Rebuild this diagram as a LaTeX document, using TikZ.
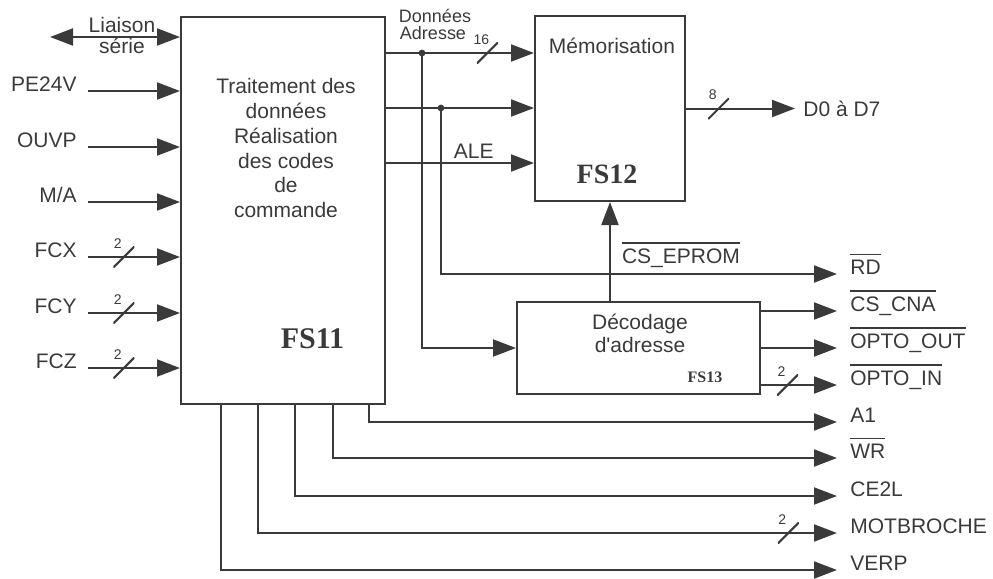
\documentclass[tikz,border=0pt]{standalone}
\usepackage{fontspec}
\setmainfont{Liberation Sans}
\newfontfamily\idfont{Liberation Serif}
\usetikzlibrary{arrows.meta,positioning}
\definecolor{ink}{HTML}{3A3A3A}
\newcommand{\nsig}[1]{\vbox{\hrule height 0.6pt\kern 2.4pt\hbox{#1}}}
\tikzset{
  block/.style={draw=ink,line width=1pt,inner sep=0pt},
  txt/.style={inner sep=0pt,text=ink,font=\fontsize{10.5}{12.4}\selectfont},
  num/.style={inner sep=0pt,text=ink,font=\fontsize{7}{7}\selectfont},
  fsid/.style={inner sep=0pt,text=ink,font=\idfont\bfseries\fontsize{#1}{#1}\selectfont},
  flow/.style={-{Triangle[length=11.5pt,width=8.5pt]},line width=1pt,draw=ink},
  duplex/.style={{Triangle[length=11.5pt,width=8.5pt]}-{Triangle[length=11.5pt,width=8.5pt]},line width=1pt,draw=ink},
  busmark/.style={inner sep=0pt,minimum width=10.5pt,minimum height=10.5pt,
    path picture={\draw[-,ink,line width=1pt] (path picture bounding box.south west) -- (path picture bounding box.north east);},
    label={[num,xshift=-3pt,yshift=-2pt]above:#1}}
}

\begin{document}
\begin{tikzpicture}[x=0.5pt,y=-0.5pt]
  \useasboundingbox (0,0) rectangle (993,579);
  % blocs
  \node[block,minimum width=102pt,minimum height=193.5pt] (fs11) at (283,210.5) {};
  \node[block,minimum width=75pt,minimum height=92.5pt] (fs12) at (610,108.5) {};
  \node[block,minimum width=121.5pt,minimum height=46pt] (fs13) at (638.5,348) {};

  \node[txt,align=center,anchor=north] (t11) at (286,78) {Traitement des\\données\\Réalisation\\des codes\\de\\commande};
  \node[fsid=15,anchor=base] (id11) at (312.5,348) {FS11};
  \node[txt,anchor=base] (t12) at (612,53) {Mémorisation};
  \node[fsid=14,anchor=base] (id12) at (607,183) {FS12};
  \node[txt,align=center,anchor=north,font=\fontsize{10.5}{11.5}\selectfont] (t13) at (640,314) {Décodage\\d\textquotesingle adresse};
  \node[fsid=8,anchor=base] (id13) at (705,382) {FS13};

  % entrees
  \coordinate (src) at (88,0);
  \coordinate (ls) at (50,37);
  \node[txt,align=center,anchor=north,font=\fontsize{10.5}{10.5}\selectfont] (liaison) at (122,17) {Liaison\\série};
  \node[txt,anchor=base east] (pe) at (77,91) {PE24V};
  \node[txt,anchor=base east] (ouvp) at (77,147) {OUVP};
  \node[txt,anchor=base east] (ma) at (77,202) {M/A};
  \node[txt,anchor=base east] (fcx) at (77,257) {FCX};
  \node[txt,anchor=base east] (fcy) at (77,313) {FCY};
  \node[txt,anchor=base east] (fcz) at (77,368) {FCZ};
  \draw[duplex] (ls) -- (fs11.west |- ls);
  \draw[flow] (src |- pe.base) -- (fs11.west |- pe.base);
  \draw[flow] (src |- ouvp.base) -- (fs11.west |- ouvp.base);
  \draw[flow] (src |- ma.base) -- (fs11.west |- ma.base);
  \draw[flow] (src |- fcx.base) -- node[busmark=2,pos=0.39] (bx) {} (fs11.west |- fcx.base);
  \draw[flow] (src |- fcy.base) -- node[busmark=2,pos=0.39] (by) {} (fs11.west |- fcy.base);
  \draw[flow] (src |- fcz.base) -- node[busmark=2,pos=0.39] (bz) {} (fs11.west |- fcz.base);

  % bus vers FS12
  \node[txt,anchor=base,font=\fontsize{9}{9}\selectfont] (don) at (435,22) {Données};
  \node[txt,anchor=base,font=\fontsize{9}{9}\selectfont] (adr) at (433,39) {Adresse};
  \coordinate (j1) at (422,53);
  \coordinate (j2) at (441,108);
  \coordinate (ale) at (460,163);
  \draw[flow] (fs11.east |- j1) -- node[busmark=16,pos=0.685] (b16) {} (fs12.west |- j1);
  \draw[flow] (fs11.east |- j2) -- (fs12.west |- j2);
  \draw[flow] (fs11.east |- ale) -- node[txt,above=2pt,pos=0.593] (lale) {ALE} (fs12.west |- ale);
  \fill[ink] (j1) circle (1.7pt);
  \fill[ink] (j2) circle (1.7pt);

  \node[txt,anchor=west] (d0) at (803,108.5) {D0 à D7};
  \draw[flow] (fs12.east) -- node[busmark=8,pos=0.30] (b8) {} ([xshift=-4pt]d0.west);

  % sorties
  \coordinate (tip) at (837,0);
  \node[txt,anchor=base west] (rd) at (850,274) {\nsig{RD}};
  \node[txt,anchor=base west] (cscna) at (850,311) {\nsig{CS\_CNA}};
  \node[txt,anchor=base west] (optoout) at (850,348) {\nsig{OPTO\_OUT}};
  \node[txt,anchor=base west] (optoin) at (850,385) {\nsig{OPTO\_IN}};
  \node[txt,anchor=base west] (a1) at (850,422) {A1};
  \node[txt,anchor=base west] (wr) at (850,458) {\nsig{WR}};
  \node[txt,anchor=base west] (ce2l) at (850,496) {CE2L};
  \node[txt,anchor=base west] (mot) at (850,533) {MOTBROCHE};
  \node[txt,anchor=base west] (verp) at (850,570) {VERP};

  \draw[flow] (j1) |- (fs13.west);
  \draw[flow] (j2) |- (tip |- rd.base);
  \draw[flow] (fs13.north -| fs12.south) -- (fs12.south);
  \node[txt,anchor=base] (lcs) at (681,263) {\nsig{CS\_EPROM}};

  \draw[flow] (fs13.east |- cscna.base) -- (tip |- cscna.base);
  \draw[flow] (fs13.east |- optoout.base) -- (tip |- optoout.base);
  \draw[flow] (fs13.east |- optoin.base) -- node[busmark=2,pos=0.35] (bin) {} (tip |- optoin.base);

  \draw[flow] ([xshift=-8.5pt]fs11.south east) |- (tip |- a1.base);
  \draw[flow] ([xshift=-26.5pt]fs11.south east) |- (tip |- wr.base);
  \draw[flow] ([xshift=-45.5pt]fs11.south east) |- (tip |- ce2l.base);
  \draw[flow] ([xshift=-64pt]fs11.south east) |- node[busmark=2,pos=0.958] (bmot) {} (tip |- mot.base);
  \draw[flow] ([xshift=-82.5pt]fs11.south east) |- (tip |- verp.base);
\end{tikzpicture}
\end{document}
